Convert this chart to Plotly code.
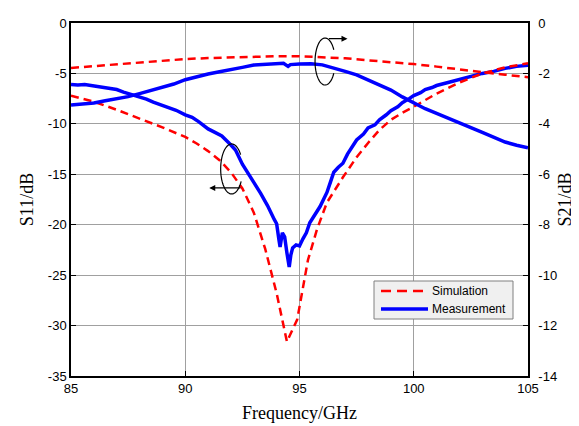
import numpy as np
import plotly.graph_objects as go

# ---------------- data ----------------
# S11 simulation (left axis, dB)
f_s11_sim = [85, 86, 87, 88, 89, 90, 90.5, 91, 91.5, 92, 92.5, 93, 93.5, 94, 94.25,
             94.45, 94.9, 95.15, 95.37, 95.76, 96.2, 96.9, 97.5, 98.0, 98.5, 99, 99.5,
             100, 101, 102, 103, 104, 105]
s11_sim = [-7.2, -7.8, -8.6, -9.45, -10.35, -11.3, -11.95, -12.7, -13.6, -14.8, -16.4, -18.8,
           -22.4, -26.8, -29.4, -31.6, -29.4, -26.2, -23.5, -20.5, -17.8, -15.3, -13.3,
           -11.9, -10.6, -9.6, -8.9, -8.3, -7.0, -5.9, -5.0, -4.4, -4.0]

# S21 simulation (right axis, dB)
f_s21_sim = [85, 86, 87, 88, 89, 90, 91, 92, 93, 94, 95, 96, 97, 98, 99, 100, 101, 102,
             103, 104, 105]
s21_sim = [-1.78, -1.71, -1.64, -1.56, -1.49, -1.43, -1.39, -1.36, -1.33, -1.32, -1.32,
           -1.35, -1.40, -1.48, -1.55, -1.63, -1.73, -1.85, -1.95, -2.05, -2.15]

# S11 measurement (left axis, dB)
f_s11_meas = [85, 85.3, 85.6, 86, 86.3, 86.6, 87, 87.3, 87.6, 88, 88.3, 88.6, 89, 89.3,
              89.6, 90, 90.3, 90.6, 91, 91.3, 91.6, 92, 92.2, 92.5, 92.8, 93, 93.3, 93.6,
              93.9, 94.0, 94.1, 94.15, 94.25, 94.35, 94.45, 94.55, 94.62, 94.7, 94.85,
              95.0, 95.15, 95.3, 95.45, 95.6, 95.75, 95.9, 96.05, 96.2, 96.35, 96.5, 96.7,
              96.9, 97.1, 97.3, 97.5, 97.8, 98, 98.3, 98.5, 98.8, 99, 99.3, 99.5, 99.8,
              100, 100.3, 100.5, 100.8, 101, 101.5, 102, 102.5, 103, 103.5, 104, 104.5, 105]
s11_meas = [-6.1, -6.15, -6.1, -6.25, -6.3, -6.45, -6.6, -6.85, -7.05, -7.4, -7.55, -7.85,
            -8.15, -8.35, -8.65, -9.1, -9.35, -9.8, -10.5, -10.85, -11.2, -12.1, -12.6,
            -14.0, -15.0, -15.8, -16.9, -18.1, -19.5, -19.9, -21.5, -22.2, -20.8, -21.2,
            -22.8, -24.2, -23.0, -22.3, -22.0, -22.1, -21.4, -20.8, -19.8, -19.3, -18.7,
            -18.2, -17.5, -16.8, -15.8, -14.8, -14.3, -13.9, -13.0, -12.3, -11.6, -11.0,
            -10.4, -10.1, -9.6, -9.1, -8.7, -8.3, -7.9, -7.5, -7.2, -6.9, -6.6, -6.4, -6.2,
            -5.9, -5.6, -5.3, -5.0, -4.8, -4.5, -4.3, -4.2]

# S21 measurement (right axis, dB)
f_s21_meas = [85, 85.5, 86, 86.5, 87, 87.5, 88, 88.5, 89, 89.5, 90, 90.5, 91, 91.5, 92,
              92.5, 93, 93.5, 94, 94.3, 94.5, 94.6, 95, 95.5, 96, 96.5, 97, 97.5, 98, 98.5,
              99, 99.5, 100, 100.5, 101, 101.5, 102, 102.5, 103, 103.5, 104, 104.5, 105]
s21_meas = [-3.25, -3.22, -3.17, -3.08, -3.0, -2.92, -2.8, -2.68, -2.57, -2.42, -2.25, -2.13,
            -2.02, -1.93, -1.83, -1.76, -1.67, -1.63, -1.62, -1.60, -1.72, -1.65, -1.63,
            -1.62, -1.66, -1.78, -1.92, -2.06, -2.25, -2.45, -2.66, -2.93, -3.18, -3.40,
            -3.58, -3.78, -3.98, -4.15, -4.34, -4.52, -4.72, -4.85, -4.95]

x_ticks = [85, 90, 95, 100, 105]
y1_ticks = [0, -5, -10, -15, -20, -25, -30, -35]
y2_ticks = [0, -2, -4, -6, -8, -10, -12, -14]
legend_names = ["Simulation", "Measurement"]

RED = "#ff0000"
BLUE = "#0000ff"
SANS = "Liberation Sans, Arial, sans-serif"
SERIF = "Liberation Serif, Times New Roman, serif"
SIM_DASH = "8px,5px"

fig = go.Figure()

# measurement (drawn first)
fig.add_trace(go.Scatter(x=f_s11_meas, y=s11_meas, mode="lines", name=legend_names[1],
                         line=dict(color=BLUE, width=3.5), showlegend=False, yaxis="y"))
fig.add_trace(go.Scatter(x=f_s21_meas, y=s21_meas, mode="lines", name=legend_names[1],
                         line=dict(color=BLUE, width=3.5), showlegend=False, yaxis="y2"))
# simulation
fig.add_trace(go.Scatter(x=f_s11_sim, y=s11_sim, mode="lines", name=legend_names[0],
                         line=dict(color=RED, width=2.5, dash=SIM_DASH), showlegend=False,
                         yaxis="y"))
fig.add_trace(go.Scatter(x=f_s21_sim, y=s21_sim, mode="lines", name=legend_names[0],
                         line=dict(color=RED, width=2.5, dash=SIM_DASH), showlegend=False,
                         yaxis="y2"))


def arc_path(cx, cy, rx, ry, a0, a1, n=60):
    t = np.radians(np.linspace(a0, a1, n))
    xs = cx + rx * np.cos(t)
    ys = cy + ry * np.sin(t)
    return "M " + " L ".join(f"{x:.4f},{y:.4f}" for x, y in zip(xs, ys))


# rotation-arrow markers (left -> S11, right -> S21)
shapes = [
    dict(type="path", xref="x", yref="y",
         path=arc_path(92.03, -14.47, 0.48, 2.48, 35, 330),
         line=dict(color="black", width=1.2)),
    dict(type="path", xref="x", yref="y",
         path=arc_path(96.12, -3.82, 0.44, 2.33, 30, 330),
         line=dict(color="black", width=1.2)),
]

annotations = [
    dict(x=91.05, y=-16.35, ax=92.48, ay=-16.35, xref="x", yref="y", axref="x", ayref="y",
         text="", showarrow=True, arrowhead=2, arrowsize=1, arrowwidth=1.2,
         arrowcolor="black"),
    dict(x=97.1, y=-1.55, ax=96.22, ay=-1.55, xref="x", yref="y", axref="x", ayref="y",
         text="", showarrow=True, arrowhead=2, arrowsize=1, arrowwidth=1.2,
         arrowcolor="black"),
]

# ---- hand-built legend box (paper coords; plot area is 457 x 353 px) ----
PW, PH = 457.0, 353.0
def px(xp):  # reference-pixel -> paper x
    return (xp - 71) / PW
def py(yp):  # reference-pixel -> paper y
    return (376 - yp) / PH

shapes.append(dict(type="rect", xref="paper", yref="paper",
                   x0=px(374), x1=px(513), y0=py(319), y1=py(281),
                   fillcolor="#f0f0f0", line=dict(color="#808080", width=1), layer="above"))
shapes.append(dict(type="line", xref="paper", yref="paper",
                   x0=px(381), x1=px(428), y0=py(291), y1=py(291),
                   line=dict(color=RED, width=2.5, dash="10px,6px"), layer="above"))
shapes.append(dict(type="line", xref="paper", yref="paper",
                   x0=px(381), x1=px(428), y0=py(309), y1=py(309),
                   line=dict(color=BLUE, width=3.5), layer="above"))
for name, yp in zip(legend_names, [291, 309]):
    annotations.append(dict(x=px(430), y=py(yp), xref="paper", yref="paper",
                            text=name, showarrow=False, xanchor="left", yanchor="middle",
                            font=dict(family=SANS, size=12, color="black")))

# the page body adds an 8 px offset, so the figure is 8 px smaller on each side
fig.update_layout(
    width=571, height=418,
    margin=dict(l=63, r=51, t=15, b=50, autoexpand=False),
    paper_bgcolor="white", plot_bgcolor="white",
    font=dict(family=SANS, size=13, color="black"),
    shapes=shapes, annotations=annotations,
    showlegend=False,
    xaxis=dict(range=[85, 105], tickvals=x_ticks, ticktext=[str(v) for v in x_ticks],
               showgrid=True, gridcolor="#a0a0a0", gridwidth=1,
               showline=True, linecolor="black", linewidth=1.5, mirror=True,
               ticks="inside", ticklen=5, tickcolor="black", zeroline=False,
               automargin=False, ticklabelstandoff=0,
               title=dict(text="Frequency/GHz", font=dict(family=SERIF, size=18),
                          standoff=11)),
    yaxis=dict(range=[-35, 0], tickvals=y1_ticks, ticktext=[str(v) for v in y1_ticks],
               showgrid=True, gridcolor="#a0a0a0", gridwidth=1,
               showline=True, linecolor="black", linewidth=1.5, mirror=True,
               ticks="inside", ticklen=5, tickcolor="black", zeroline=False,
               automargin=False, ticklabelstandoff=0,
               title=dict(text="S11/dB", font=dict(family=SERIF, size=18), standoff=10)),
    yaxis2=dict(range=[-14, 0], tickvals=y2_ticks, ticktext=[str(v) for v in y2_ticks],
                overlaying="y", side="right", showgrid=False,
                showline=True, linecolor="black", linewidth=1.5,
                ticks="inside", ticklen=5, tickcolor="black", zeroline=False,
                automargin=False, ticklabelstandoff=6,
                title=dict(text="S21/dB", font=dict(family=SERIF, size=18), standoff=2)),
)

fig.write_html("out.html")
